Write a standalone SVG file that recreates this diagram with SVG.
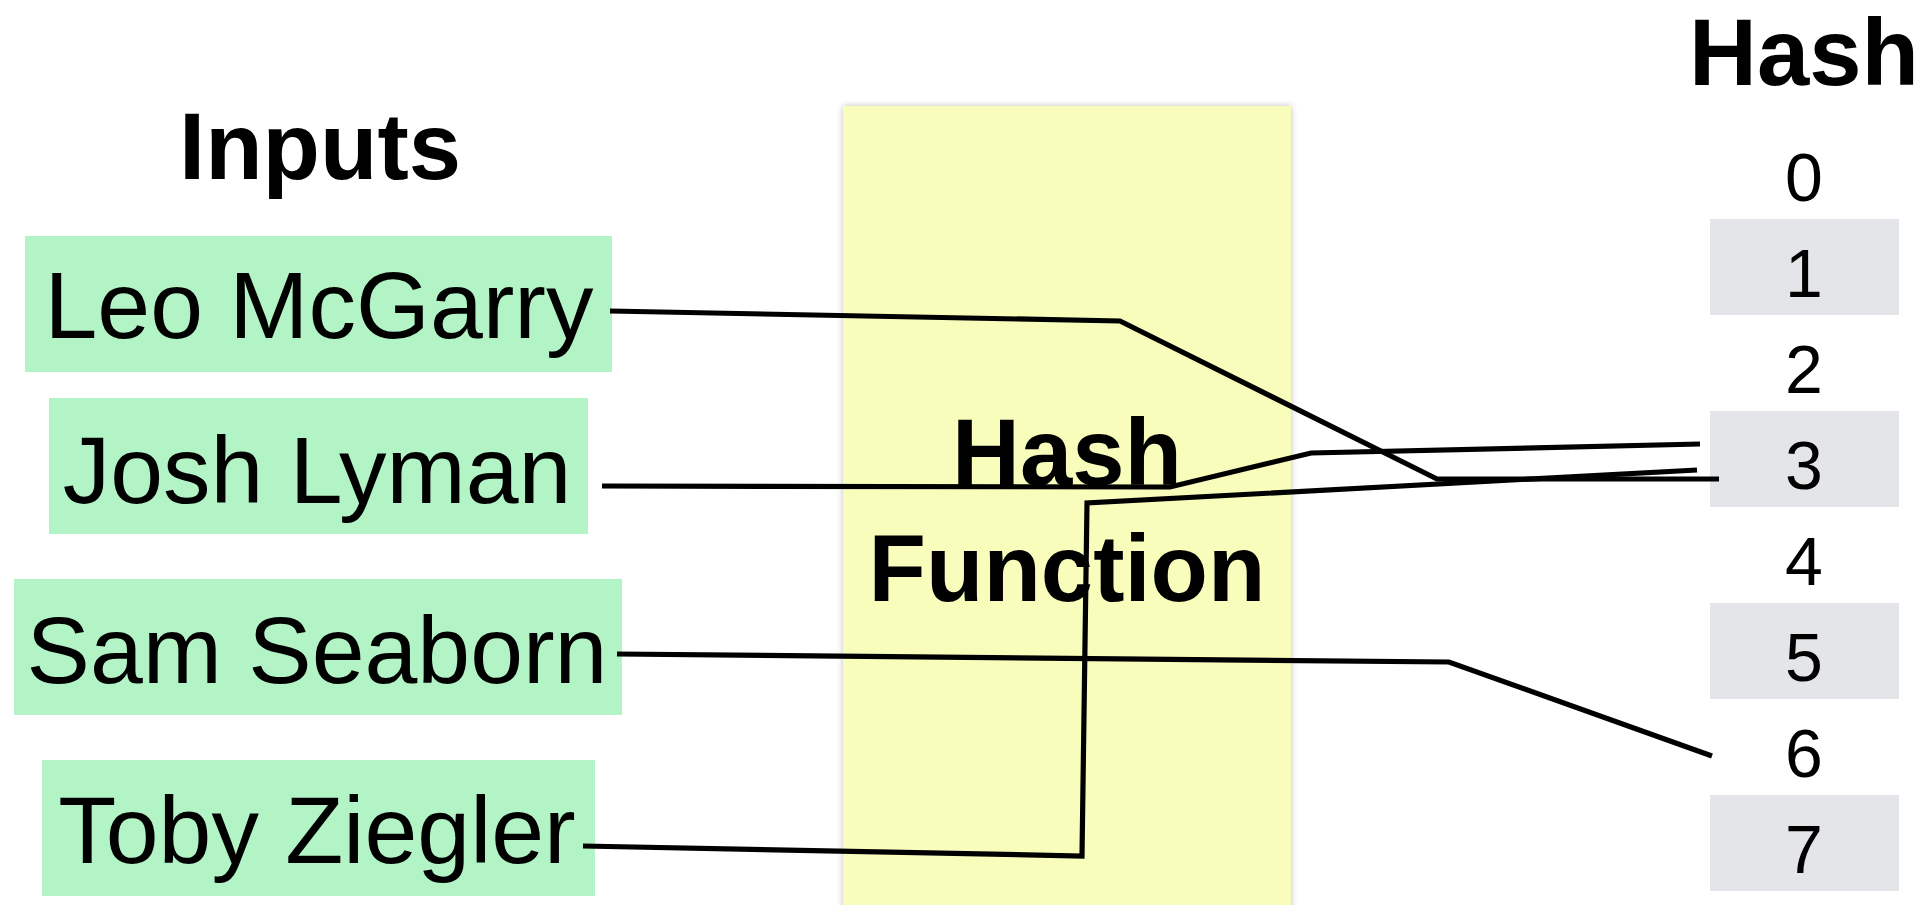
<svg xmlns="http://www.w3.org/2000/svg" width="1925" height="905" viewBox="0 0 1925 905">
  <defs>
    <filter id="shadow" x="-5%" y="-5%" width="110%" height="110%">
      <feDropShadow dx="0" dy="0" stdDeviation="3" flood-color="#000" flood-opacity="0.25"/>
    </filter>
  </defs>
  <style>
    .title { font-family: "Liberation Sans", Arial, sans-serif; font-weight: bold; font-size: 94px; fill: #000; text-anchor: middle; }
    .name { font-family: "Liberation Sans", Arial, sans-serif; font-size: 95px; fill: #000; text-anchor: middle; }
    .num { font-family: "Liberation Sans", Arial, sans-serif; font-size: 68px; fill: #000; text-anchor: middle; }
    .inbox { fill: #B2F4C6; }
    .slot { fill: #E4E5E8; }
    .conn { fill: none; stroke: #000; stroke-width: 5.2; stroke-linejoin: miter; }
  </style>
  <rect width="1925" height="905" fill="#fff"/>

  <g id="hash-function">
    <rect x="843" y="106" width="448" height="820" fill="#F8FDBB" filter="url(#shadow)"/>
    <text class="title" x="1067" y="485" font-size="92">Hash</text>
    <text class="title" x="1067" y="601" font-size="92">Function</text>
  </g>

  <g id="inputs-title">
    <text class="title" x="320" y="179">Inputs</text>
  </g>

  <g id="input-leo">
    <rect class="inbox" x="25" y="236" width="587" height="136"/>
    <text class="name" x="319" y="338">Leo McGarry</text>
  </g>
  <g id="input-josh">
    <rect class="inbox" x="49" y="398" width="539" height="136"/>
    <text class="name" x="317" y="503">Josh Lyman</text>
  </g>
  <g id="input-sam">
    <rect class="inbox" x="14" y="579" width="608" height="136"/>
    <text class="name" x="317" y="683">Sam Seaborn</text>
  </g>
  <g id="input-toby">
    <rect class="inbox" x="42" y="760" width="553" height="136"/>
    <text class="name" x="317" y="863">Toby Ziegler</text>
  </g>

  <g id="hash-title">
    <text class="title" x="1804" y="85" font-size="92">Hash</text>
  </g>

  <g id="slot-0"><text class="num" x="1804" y="201">0</text></g>
  <g id="slot-1"><rect class="slot" x="1710" y="219" width="189" height="96"/><text class="num" x="1804" y="297">1</text></g>
  <g id="slot-2"><text class="num" x="1804" y="393">2</text></g>
  <g id="slot-3"><rect class="slot" x="1710" y="411" width="189" height="96"/><text class="num" x="1804" y="489">3</text></g>
  <g id="slot-4"><text class="num" x="1804" y="585">4</text></g>
  <g id="slot-5"><rect class="slot" x="1710" y="603" width="189" height="96"/><text class="num" x="1804" y="681">5</text></g>
  <g id="slot-6"><text class="num" x="1804" y="777">6</text></g>
  <g id="slot-7"><rect class="slot" x="1710" y="795" width="189" height="96"/><text class="num" x="1804" y="873">7</text></g>

  <g id="connectors">
    <polyline class="conn" points="610,311 1120,321 1437,479 1719,479"/>
    <polyline class="conn" points="602,486 1170,487 1311,453 1700,444"/>
    <polyline class="conn" points="617,654 1449,662 1712,756"/>
    <polyline class="conn" points="583,846 1082,856 1087,503 1697,470"/>
  </g>
</svg>
